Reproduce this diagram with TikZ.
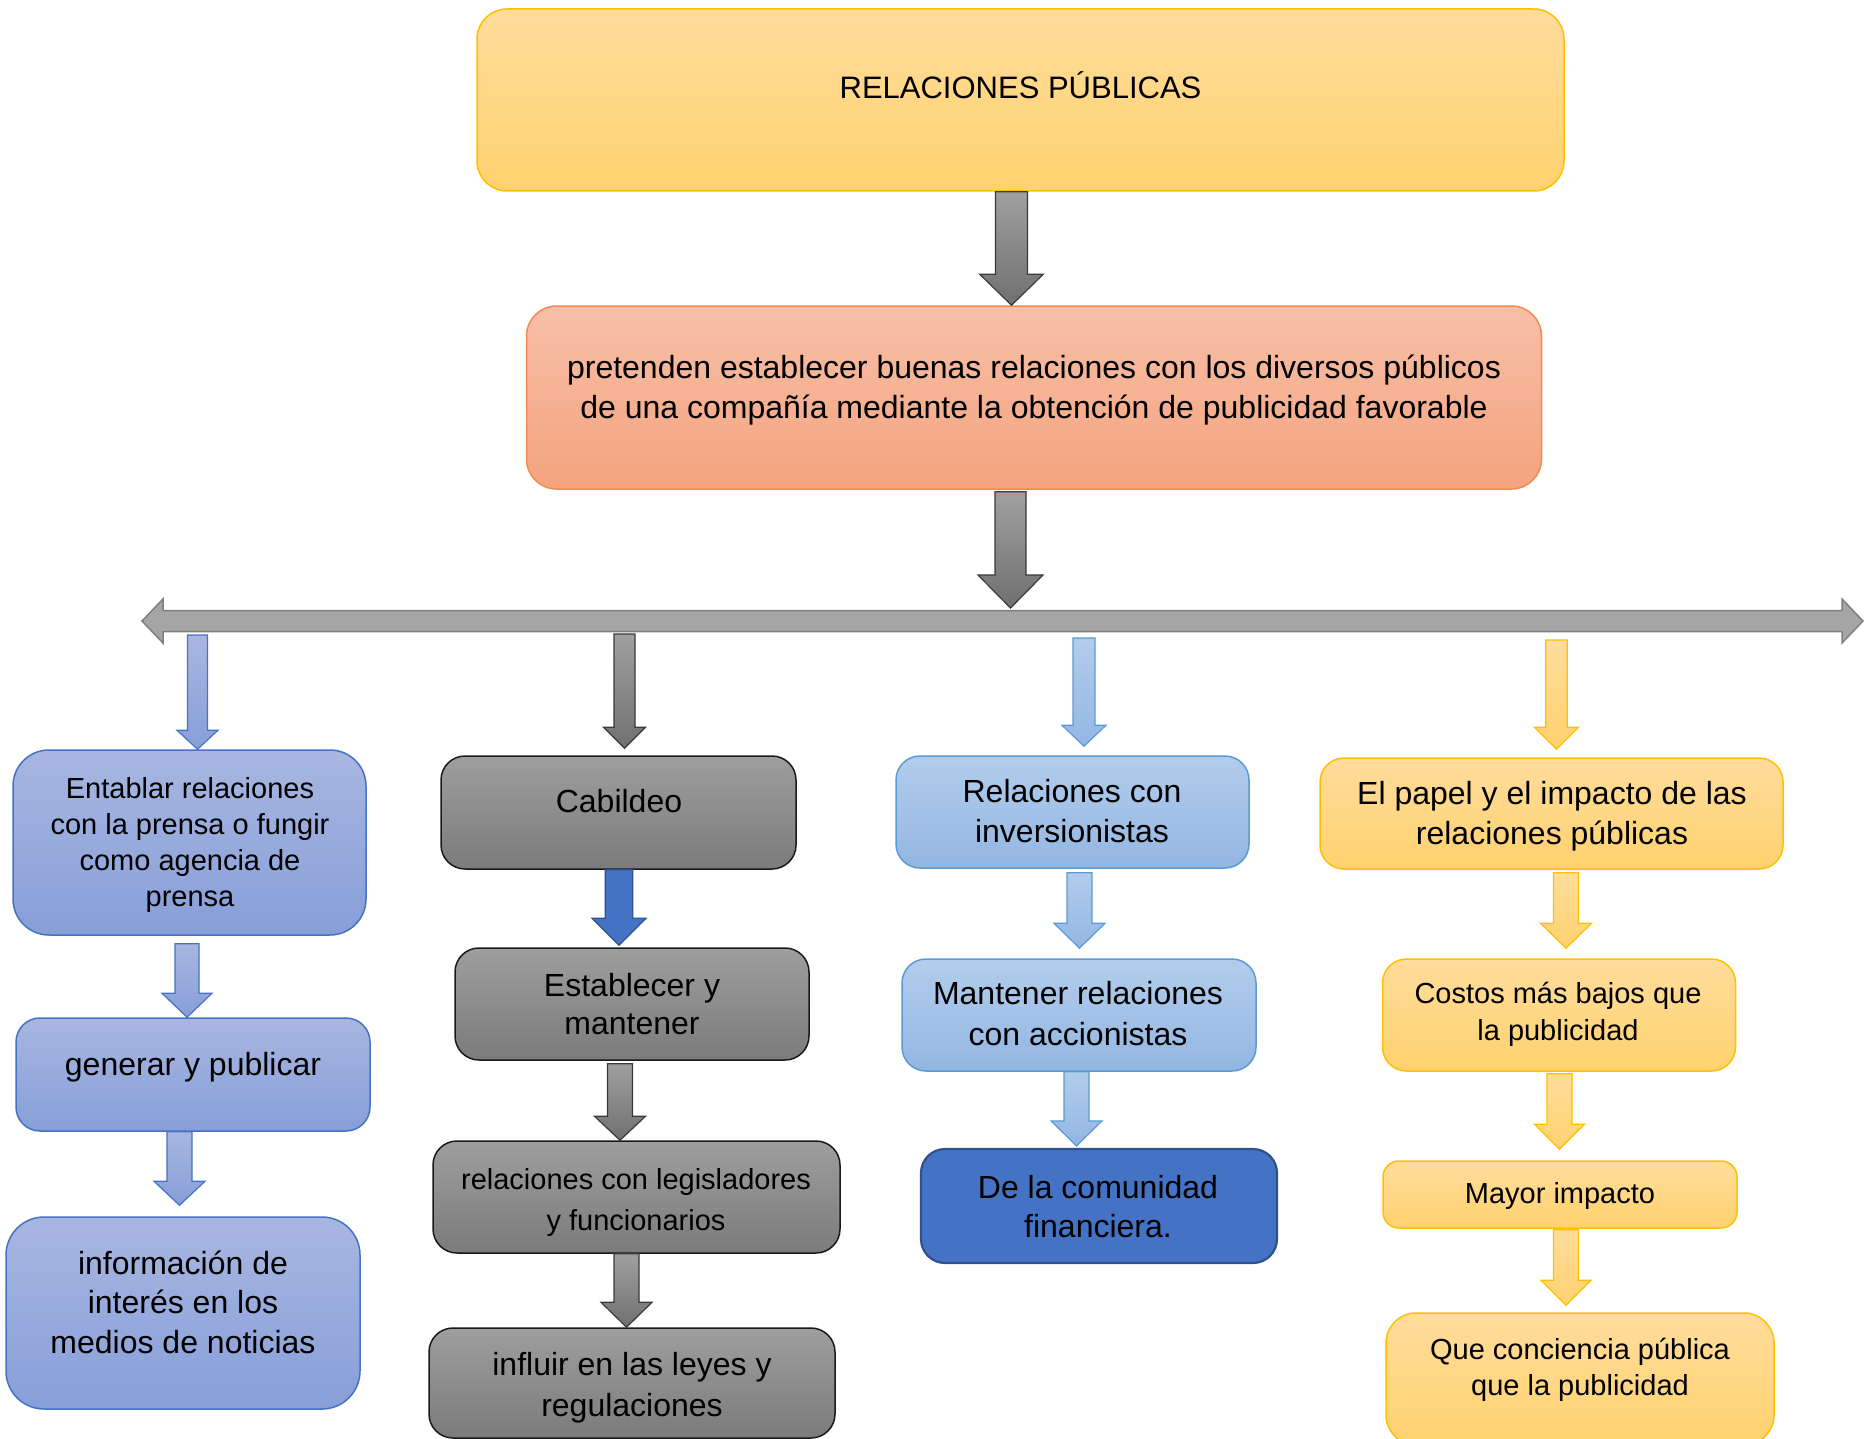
\documentclass[tikz,border=0pt]{standalone}
\usepackage{fontspec}
\setmainfont{Liberation Sans}
\usetikzlibrary{calc}
\definecolor{yelT}{HTML}{FFDC9C}\definecolor{yelB}{HTML}{FFD26E}\definecolor{yelD}{HTML}{FFC000}
\definecolor{salT}{HTML}{F7BFA8}\definecolor{salB}{HTML}{F4A37E}\definecolor{salD}{HTML}{F08C50}
\definecolor{purT}{HTML}{A8B7E1}\definecolor{purB}{HTML}{879ED8}\definecolor{purD}{HTML}{4472C4}
\definecolor{gryT}{HTML}{9E9E9E}\definecolor{gryB}{HTML}{7B7B7B}\definecolor{gryD}{HTML}{1A1A1A}
\definecolor{lbT}{HTML}{B2CDEC}\definecolor{lbB}{HTML}{93B6E2}\definecolor{lbD}{HTML}{5B9BD5}
\definecolor{dbF}{HTML}{4472C4}\definecolor{dbD}{HTML}{2F528F}
\definecolor{barF}{HTML}{A5A5A5}\definecolor{barD}{HTML}{7F7F7F}
\definecolor{garT}{HTML}{A0A0A0}\definecolor{garB}{HTML}{707070}\definecolor{garD}{HTML}{3A3A3A}
% block arrow: style, start, end, shaft half width, head half width, head length
\newcommand\barrow[6]{\path[#1] let \p1=#2, \p2=#3 in
 (\x1-#4pt,\y1) -- (\x1+#4pt,\y1) -- (\x1+#4pt,\y2+#6pt) -- (\x1+#5pt,\y2+#6pt)
 -- (\x1,\y2) -- (\x1-#5pt,\y2+#6pt) -- (\x1-#4pt,\y2+#6pt) -- cycle;}
\begin{document}
\begin{tikzpicture}[x=1pt,y=-1pt,
  box/.style={rectangle, inner sep=0pt, line width=1.5pt},
  ybox/.style={box, draw=yelD, top color=yelT, bottom color=yelB},
  sbox/.style={box, draw=salD, top color=salT, bottom color=salB},
  pbox/.style={box, draw=purD, top color=purT, bottom color=purB},
  gbox/.style={box, draw=gryD, top color=gryT, bottom color=gryB},
  lbox/.style={box, draw=lbD, top color=lbT, bottom color=lbB},
  dbox/.style={box, draw=dbD, line width=2.2pt, fill=dbF},
  garr/.style={draw=garD, line width=1.2pt, top color=garT, bottom color=garB},
  parr/.style={draw=purD, line width=1.2pt, top color=purT, bottom color=purB},
  barr/.style={draw=dbD, line width=1.2pt, fill=dbF},
  larr/.style={draw=lbD, line width=1.2pt, top color=lbT, bottom color=lbB},
  yarr/.style={draw=yelD, line width=1.2pt, top color=yelT, bottom color=yelB},
  tA/.style={align=center, inner sep=0pt, font=\fontsize{32}{40}\selectfont},
  tB/.style={align=center, inner sep=0pt, font=\fontsize{29}{36.5}\selectfont},
]
\useasboundingbox (0,0) rectangle (1865,1439);

% boxes
\node[ybox, minimum width=1087pt, minimum height=182pt, rounded corners=30pt] (top) at (1020.5,100) {};
\node[sbox, minimum width=1015pt, minimum height=183pt, rounded corners=30pt] (sal) at (1034,397.5) {};

\node[pbox, minimum width=353pt, minimum height=185pt, rounded corners=36pt] (ent) at (189.5,842.5) {};
\node[pbox, minimum width=354pt, minimum height=113pt, rounded corners=24pt] (gen) at (193,1074.5) {};
\node[pbox, minimum width=354pt, minimum height=192pt, rounded corners=38pt] (info) at (183,1313) {};

\node[gbox, minimum width=355pt, minimum height=113pt, rounded corners=24pt] (cab) at (618.5,812.5) {};
\node[gbox, minimum width=354pt, minimum height=112pt, rounded corners=24pt] (est) at (632,1004) {};
\node[gbox, minimum width=407pt, minimum height=112pt, rounded corners=24pt] (leg) at (636.5,1197) {};
\node[gbox, minimum width=406pt, minimum height=110pt, rounded corners=24pt] (inf) at (632,1383) {};

\node[lbox, minimum width=353pt, minimum height=112pt, rounded corners=24pt] (inv) at (1072.5,812) {};
\node[lbox, minimum width=354pt, minimum height=112pt, rounded corners=24pt] (man) at (1079,1015) {};
\node[dbox, minimum width=356pt, minimum height=114pt, rounded corners=24pt] (com) at (1099,1206) {};

\node[ybox, minimum width=463pt, minimum height=111pt, rounded corners=24pt] (pap) at (1551.5,813.5) {};
\node[ybox, minimum width=353pt, minimum height=112pt, rounded corners=24pt] (cos) at (1559,1015) {};
\node[ybox, minimum width=354pt, minimum height=67pt, rounded corners=16pt] (may) at (1560,1194.5) {};
\node[ybox, minimum width=388pt, minimum height=132pt, rounded corners=30pt] (que) at (1580,1379) {};

% texts
\node[tA, font=\fontsize{31}{38}\selectfont] (t0) at (1020.5,85.5) {RELACIONES PÚBLICAS};
\node[tA] (t1) at (1034,390.5) {pretenden establecer buenas relaciones con los diversos públicos\\de una compañía mediante la obtención de publicidad favorable};
\node[tB, font=\fontsize{29}{36.3}\selectfont] (t2) at (190,845) {Entablar relaciones\\con la prensa o fungir\\como agencia de\\prensa};
\node[tA] (t3) at (193,1067.5) {generar y publicar};
\node[tA, font=\fontsize{32}{39.5}\selectfont] (t4) at (183,1302) {información de\\interés en los\\medios de noticias};
\node[tA] (t5) at (619,801) {Cabildeo};
\node[tA, font=\fontsize{32}{38}\selectfont] (t6) at (632,1004) {Establecer y\\mantener};
\node[tB, font=\fontsize{29}{41}\selectfont] (t7) at (636,1202) {relaciones con legisladores\\y funcionarios};
\node[tA, font=\fontsize{32}{41}\selectfont] (t8) at (632,1388) {influir en las leyes y\\regulaciones};
\node[tA] (t9) at (1072,811) {Relaciones con\\inversionistas};
\node[tA, font=\fontsize{32}{41}\selectfont] (t10) at (1078,1013.5) {Mantener relaciones\\con accionistas};
\node[tA, font=\fontsize{32}{39}\selectfont] (t11) at (1098,1206.5) {De la comunidad\\financiera.};
\node[tA] (t12) at (1552,816.5) {El papel y el impacto de las\\relaciones públicas};
\node[tB, font=\fontsize{29}{37}\selectfont] (t13) at (1558,1014) {Costos más bajos que\\la publicidad};
\node[tB] (t14) at (1560,1195.5) {Mayor impacto};
\node[tB, font=\fontsize{29}{36}\selectfont] (t15) at (1580,1369.5) {Que conciencia pública\\que la publicidad};

% horizontal double arrow bar
\coordinate (barL) at (142,621);
\coordinate (barR) at (1863,621);
\coordinate (barT) at (1010.5,608);
\path[draw=barD, line width=1.5pt, fill=barF] let \p1=(barL), \p2=(barR) in
  (\x1,\y1) -- (\x1+21pt,\y1+22pt) -- (\x1+21pt,\y1+10.5pt) -- (\x2-21pt,\y1+10.5pt)
  -- (\x2-21pt,\y1+22pt) -- (\x2,\y1) -- (\x2-21pt,\y1-22pt) -- (\x2-21pt,\y1-10.5pt)
  -- (\x1+21pt,\y1-10.5pt) -- (\x1+21pt,\y1-22pt) -- cycle;
\coordinate (k1) at (197.5,635);
\coordinate (k2) at (624.5,634);
\coordinate (k3) at (1084,638);
\coordinate (k4) at (1556.5,640);

% arrows
\barrow{garr}{([xshift=-9pt]top.south)}{(sal.north)}{16}{31.75}{31}
\barrow{garr}{([xshift=-23.5pt,yshift=-2pt]sal.south)}{(barT)}{15.5}{32.5}{33}

\barrow{parr}{(k1)}{(ent.north)}{10}{20.5}{19}
\barrow{parr}{([xshift=-2.5pt,yshift=-8pt]ent.south)}{(gen.north)}{12}{25}{24}
\barrow{parr}{([xshift=-13.5pt]gen.south)}{([yshift=11pt]info.north)}{12.5}{25.5}{24}

\barrow{garr}{(k2)}{([yshift=7pt]cab.north)}{10.5}{21}{21}
\barrow{barr}{([xshift=0.5pt]cab.south)}{([yshift=2pt]est.north)}{13.75}{27}{27}
\barrow{garr}{([xshift=-12pt,yshift=-3pt]est.south)}{(leg.north)}{12.5}{25.5}{24}
\barrow{garr}{([xshift=-10pt]leg.south)}{(inf.north)}{12.5}{25.5}{25}

\barrow{larr}{(k3)}{([yshift=9pt]inv.north)}{11}{22}{21}
\barrow{larr}{([xshift=7pt,yshift=-4pt]inv.south)}{([yshift=10pt]man.north)}{12.5}{25.5}{25}
\barrow{larr}{([xshift=-2.5pt]man.south)}{([yshift=2pt]com.north)}{12.5}{25.5}{25}

\barrow{yarr}{(k4)}{([yshift=8pt]pap.north)}{10.8}{22}{22}
\barrow{yarr}{([xshift=14.5pt,yshift=-3pt]pap.south)}{([yshift=10pt]cos.north)}{12.5}{25.5}{25}
\barrow{yarr}{([xshift=0.5pt,yshift=-2pt]cos.south)}{([yshift=11pt]may.north)}{12.5}{25}{25}
\barrow{yarr}{([xshift=6pt,yshift=-1pt]may.south)}{([yshift=7pt]que.north)}{12.5}{25}{25}
\end{tikzpicture}
\end{document}
